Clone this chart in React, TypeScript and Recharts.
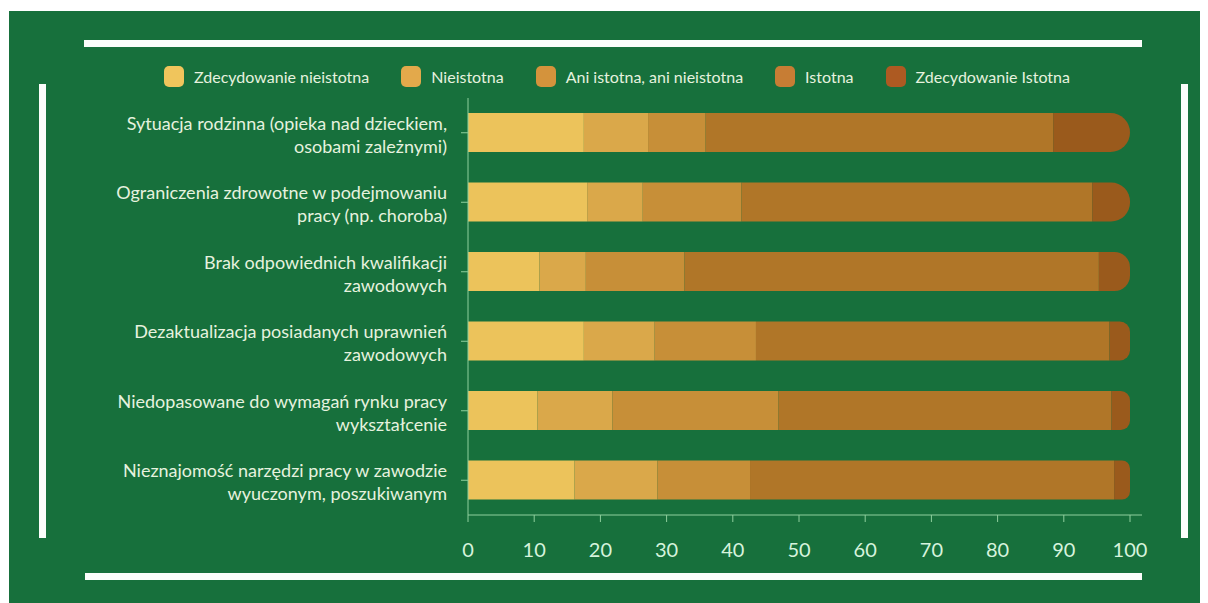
import { BarChart, Bar, XAxis, YAxis, Legend } from 'recharts';

const categories = [
  'Sytuacja rodzinna (opieka nad dzieckiem,\nosobami zależnymi)',
  'Ograniczenia zdrowotne w podejmowaniu\npracy (np. choroba)',
  'Brak odpowiednich kwalifikacji\nzawodowych',
  'Dezaktualizacja posiadanych uprawnień\nzawodowych',
  'Niedopasowane do wymagań rynku pracy\nwykształcenie',
  'Nieznajomość narzędzi pracy w zawodzie\nwyuczonym, poszukiwanym',
];

const seriesNames = [
  'Zdecydowanie nieistotna',
  'Nieistotna',
  'Ani istotna, ani nieistotna',
  'Istotna',
  'Zdecydowanie Istotna',
];

const veryUnimportant = [17.5, 18.0, 10.8, 17.5, 10.5, 16.1];
const unimportant = [9.7, 8.4, 7.0, 10.7, 11.3, 12.5];
const neutral = [8.7, 14.9, 14.9, 15.3, 25.1, 14.0];
const important = [52.5, 53.0, 62.6, 53.4, 50.3, 55.0];
const veryImportant = [11.6, 5.7, 4.7, 3.1, 2.8, 2.4];

const xTicks = [0, 10, 20, 30, 40, 50, 60, 70, 80, 90, 100];

const barColors = ['#ecc35b', '#daa84a', '#c78f38', '#b07628', '#9a5a1c'];
const legendColors = ['#f0c55c', '#e3a94b', '#d4933c', '#c77d34', '#ad5a22'];

const seriesValues = [veryUnimportant, unimportant, neutral, important, veryImportant];

const data = categories.map((name, i) => {
  const row: Record<string, string | number> = { name };
  seriesNames.forEach((s, j) => {
    row[s] = seriesValues[j][i];
  });
  return row;
});

const GREEN = '#17703c';
const AXIS = '#8fcf9d';
const TEXT = '#e6f2df';

function CategoryTick(props: any) {
  const { x, y, payload } = props;
  const lines = String(payload.value).split('\n');
  return (
    <text x={x - 12} y={y} textAnchor="end" fill={TEXT} fontSize={18} fontFamily="Lato">
      {lines.map((l, i) => (
        <tspan key={i} x={x - 12} y={y - 3 + i * 23}>
          {l}
        </tspan>
      ))}
    </text>
  );
}

function renderLegend() {
  return (
    <div style={{ display: 'flex', alignItems: 'center', fontFamily: 'Lato', fontSize: 16, color: TEXT }}>
      {seriesNames.map((s, i) => (
        <div key={s} style={{ display: 'flex', alignItems: 'center', marginRight: 32 }}>
          <span
            style={{
              display: 'inline-block',
              width: 20,
              height: 21,
              borderRadius: 5,
              background: legendColors[i],
              marginRight: 10,
            }}
          />
          <span>{s}</span>
        </div>
      ))}
    </div>
  );
}

const line = (left: number, top: number, width: number, height: number) => (
  <div style={{ position: 'absolute', left, top, width, height, background: '#fbfdfb' }} />
);

export default function App() {
  return (
    <div style={{ paddingTop: 3, paddingLeft: 1 }}>
      <div style={{ position: 'relative', width: 1199, height: 592, background: GREEN, fontFamily: 'Lato' }}>
        {line(75, 29, 1058, 7)}
        {line(76, 562, 1057, 7)}
        {line(30, 73, 7, 454)}
        {line(1172, 73, 7, 454)}
        <div style={{ position: 'absolute', left: 0, top: 0 }}>
          <BarChart
            width={1199}
            height={592}
            data={data}
            layout="vertical"
            margin={{ top: 87, right: 66, bottom: 38, left: 0 }}
          >
            <XAxis
              type="number"
              domain={[0, 100]}
              ticks={xTicks}
              padding={{ left: 0, right: 12 }}
              stroke={AXIS}
              tickSize={7}
              tickMargin={21}
              height={50}
              tick={{ fill: '#d6f3dc', fontSize: 20, fontFamily: 'Lato' }}
            />
            <YAxis
              type="category"
              dataKey="name"
              width={459}
              stroke={AXIS}
              tickSize={7}
              tick={<CategoryTick />}
              interval={0}
            />
            <Legend
              layout="horizontal"
              verticalAlign="middle"
              align="center"
              content={renderLegend}
              wrapperStyle={{ top: 55, left: 155, width: 1000 }}
            />
            {seriesNames.map((s, i) => (
              <Bar
                key={s}
                dataKey={s}
                stackId="a"
                fill={barColors[i]}
                barSize={39}
                isAnimationActive={false}
                radius={i === seriesNames.length - 1 ? [0, 20, 20, 0] : 0}
              />
            ))}
          </BarChart>
        </div>
      </div>
    </div>
  );
}
